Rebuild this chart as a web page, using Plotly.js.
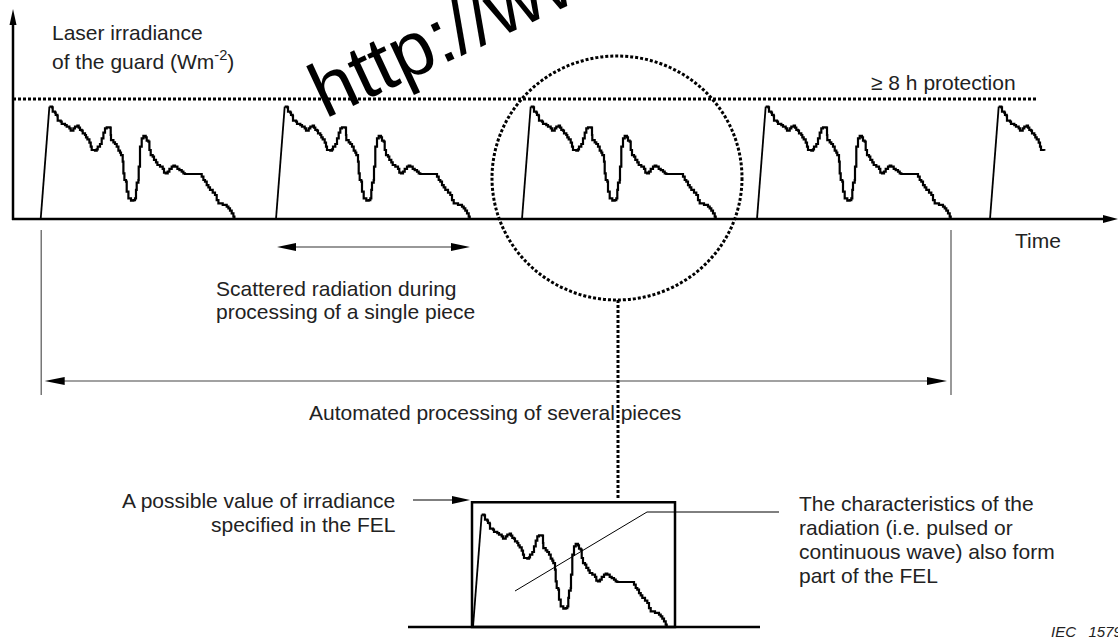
<!DOCTYPE html>
<html><head><meta charset="utf-8">
<script src="https://cdn.plot.ly/plotly-3.0.1.min.js"></script>
<style>html,body{margin:0;padding:0;background:#fff;}#chart{width:1118px;height:637px;}</style>
</head><body><div id="chart"></div>
<script>
// ---- DATA ----
// Irradiance profile while processing one piece: time offset from start of the piece, relative irradiance (8 h protection level = 100)
const profileTime = [0, 8.7, 11.3, 12.0, 14.3, 15.0, 16.7, 17.0, 20.0, 21.0, 24.3, 26.0, 28.7, 30.0, 32.0, 32.7, 34.3, 36.7, 38.0, 39.3, 41.0, 42.0, 44.3, 45.3, 46.7, 48.7, 50.0, 51.0, 54.3, 56.0, 57.0, 59.3, 61.0, 62.7, 64.3, 66.0, 69.3, 70.0, 70.3, 72.7, 74.3, 76.0, 77.7, 79.3, 80.3, 82.0, 82.7, 83.7, 85.3, 86.0, 87.7, 90.3, 92.7, 94.3, 95.3, 96.0, 97.7, 98.0, 99.3, 101.0, 102.7, 105.0, 106.0, 107.7, 108.7, 110.0, 112.0, 113.3, 115.3, 116.7, 119.3, 122.0, 123.3, 125.0, 127.0, 128.7, 131.0, 132.7, 134.3, 136.7, 138.7, 141.0, 142.7, 144.3, 159.3, 161.0, 162.7, 164.3, 166.0, 167.7, 169.3, 172.0, 174.3, 176.0, 177.7, 182.0, 186.0, 187.7, 189.3, 191.0, 192.7, 193.7];
const profileIrradiance = [0, 93.6, 93.1, 89.4, 88.6, 86.7, 85.8, 81.9, 81.1, 79.2, 78.3, 76.9, 75.6, 73.6, 73.6, 75.6, 76.9, 77.8, 76.1, 74.2, 73.6, 71.4, 70.0, 68.1, 66.4, 63.6, 60.3, 57.5, 56.9, 58.1, 60.3, 62.5, 67.2, 71.9, 75.6, 76.4, 76.1, 70.0, 65.8, 63.9, 62.5, 60.3, 56.9, 55.3, 53.3, 47.8, 38.1, 32.5, 31.1, 22.8, 17.2, 15.3, 15.8, 17.2, 24.2, 30.3, 32.5, 43.6, 60.3, 67.2, 69.2, 68.1, 65.3, 64.4, 57.5, 53.3, 51.9, 49.2, 47.2, 45.0, 43.6, 41.7, 38.6, 38.1, 39.4, 41.7, 43.6, 44.4, 43.6, 41.7, 40.8, 39.4, 38.1, 37.5, 37.5, 35.3, 32.5, 31.1, 28.3, 26.4, 24.2, 21.9, 20.0, 15.8, 13.1, 11.7, 10.3, 8.9, 6.9, 4.7, 1.9, 0];
const pieceStarts = [27.7, 263, 509, 744, 977];
const pieceShownUntil = [194, 194, 194, 194, 54.3];
const protectionLevel = 100;
const protectionLineEnd = 1025;
const felLevel = 104;
const felDuration = 202;
const yLabelLines = ["Laser irradiance", "of the guard (Wm<sup>-2</sup>)"];
const protectionLabel = "\u2265 8 h protection";
const timeLabel = "Time";
const singleLabelLines = ["Scattered radiation during", "processing of a single piece"];
const severalLabel = "Automated processing of several pieces";
const felLabelLines = ["A possible value of irradiance", "specified in the FEL"];
const charLabelLines = ["The characteristics of the", "radiation (i.e. pulsed or", "continuous wave) also form", "part of the FEL"];
const figureId = "IEC   1579";
const watermark = "http://www.";

// ---- GEOMETRY (layout only) ----
const W = 1118, H = 637, X0 = 13, Y0 = 219, YS = 1.2;
const IX0 = 473, IY0 = 627;
const P = (px, py) => [px - X0, (Y0 - py) / YS];
const FONT = "Liberation Sans, Arial, Helvetica, sans-serif";
const TXT = "#222";
const DOT = "3px,2px";

const traces = [];
function pulseTraces(offset, until, xa, ya) {
  const xs = [], ys = [];
  profileTime.forEach((t, k) => { if (t <= until) { xs.push(offset + t); ys.push(profileIrradiance[k]); } });
  // rising edge (straight) and the stepped, digitised decay
  traces.push({x: xs.slice(0, 2), y: ys.slice(0, 2), type: 'scatter', mode: 'lines', line: {color: '#000', width: 1.8}, hoverinfo: 'skip', xaxis: xa, yaxis: ya});
  traces.push({x: xs.slice(1), y: ys.slice(1), type: 'scatter', mode: 'lines', line: {color: '#000', width: 2.2, shape: 'hv'}, hoverinfo: 'skip', xaxis: xa, yaxis: ya});
}
pieceStarts.forEach((s, i) => pulseTraces(s, pieceShownUntil[i], 'x', 'y'));
traces.push({x: [0, protectionLineEnd], y: [protectionLevel, protectionLevel], type: 'scatter', mode: 'lines',
  line: {color: '#000', width: 3, dash: DOT}, hoverinfo: 'skip', xaxis: 'x', yaxis: 'y'});
pulseTraces(0, Infinity, 'x2', 'y2');

const shapes = [];
function seg(a, b, c, w, dash) {
  const p = P(a[0], a[1]), q = P(b[0], b[1]);
  shapes.push({type: 'line', xref: 'x', yref: 'y', x0: p[0], y0: p[1], x1: q[0], y1: q[1], line: {color: c, width: w, dash: dash || 'solid'}});
}
function head(tip, dir, L, hw) {
  const bx = tip[0] - dir[0] * L, by = tip[1] - dir[1] * L;
  const n = [-dir[1], dir[0]];
  const pts = [tip, [bx + n[0] * hw, by + n[1] * hw], [bx - n[0] * hw, by - n[1] * hw]].map(p => P(p[0], p[1]));
  shapes.push({type: 'path', xref: 'x', yref: 'y', path: 'M' + pts.map(p => p[0] + ',' + p[1]).join('L') + 'Z', fillcolor: '#000', line: {width: 0}});
}
// axes
seg([13, 220], [13, 24], '#000', 2.5);
head([13, 9], [0, -1], 16, 3.5);
seg([12, 219], [1104, 219], '#000', 2.5);
head([1118, 219], [1, 0], 15, 4);
// extent markers
const p1 = pieceStarts[0] + X0, p4e = pieceStarts[3] + pieceShownUntil[3] + X0;
seg([p1 + 0.5, 230], [p1 + 0.5, 395], '#555', 1.2);
seg([p4e, 230], [p4e, 395], '#555', 1.2);
// single-piece arrow
const s2 = pieceStarts[1] + X0, e2 = pieceStarts[1] + pieceShownUntil[1] + X0;
seg([s2 + 12, 247], [e2 - 12, 247], '#333', 1.2);
head([s2 + 1, 247], [-1, 0], 19, 4);
head([e2, 247], [1, 0], 19, 4);
// several-pieces arrow
seg([p1 + 16, 381], [p4e - 16, 381], '#444', 1.2);
head([p1 + 4, 381], [-1, 0], 20, 4);
head([p4e - 4, 381], [1, 0], 20, 4);
// dotted zoom circle and connector
const c0 = P(492, 300), c1 = P(742, 56);
shapes.push({type: 'circle', xref: 'x', yref: 'y', x0: c0[0], y0: c0[1], x1: c1[0], y1: c1[1], line: {color: '#000', width: 3, dash: DOT}});
seg([618, 300], [618, 500], '#000', 3, DOT);
// FEL pointer arrow
seg([413, 500], [455, 500], '#000', 1.2);
head([470, 500], [1, 0], 18, 4);
// characteristics pointer
seg([515, 591], [647, 512], '#000', 1);
seg([647, 512], [779, 512], '#000', 1);
// inset box & ground
shapes.push({type: 'rect', xref: 'x2', yref: 'y2', x0: -1, x1: felDuration, y0: 0, y1: felLevel, line: {color: '#000', width: 2.5}});
shapes.push({type: 'line', xref: 'x2', yref: 'y2', x0: 408 - IX0, x1: 760 - IX0, y0: 0, y1: 0, line: {color: '#000', width: 2.5}});

const annotations = [];
function txt(text, px, py, anchor, size, extra) {
  const p = P(px, py);
  annotations.push(Object.assign({text: text, x: p[0], y: p[1], xref: 'x', yref: 'y', xanchor: anchor, yanchor: 'middle', showarrow: false,
    font: {family: FONT, size: size || 21, color: TXT}}, extra || {}));
}
txt(yLabelLines[0], 50, 32, 'left');
txt(yLabelLines[1], 50, 60, 'left');
txt(protectionLabel, 943, 82, 'center');
txt(timeLabel, 1038, 240, 'center');
txt(singleLabelLines[0], 214, 288, 'left');
txt(singleLabelLines[1], 214, 311, 'left');
txt(severalLabel, 495, 412, 'center');
felLabelLines.forEach((l, i) => txt(l, 397, 500 + 24 * i, 'right'));
charLabelLines.forEach((l, i) => txt(l, 797, 503 + 24 * i, 'left'));
txt('<i>' + figureId + '</i>', 1049, 631, 'left', 15);
txt(watermark, 484, 15, 'center', 77, {textangle: -25, font: {family: FONT, size: 77, color: '#000'}});

const ax = (o) => Object.assign({showgrid: false, zeroline: false, showticklabels: false, showline: false, ticks: '', fixedrange: true}, o);
const layout = {
  width: W, height: H, margin: {l: 0, r: 0, t: 0, b: 0}, showlegend: false,
  paper_bgcolor: '#fff', plot_bgcolor: 'rgba(0,0,0,0)',
  xaxis: ax({domain: [0, 1], range: [-X0, W - X0]}),
  yaxis: ax({domain: [0, 1], range: [(Y0 - H) / YS, Y0 / YS]}),
  xaxis2: ax({domain: [408 / W, 800 / W], range: [408 - IX0, 800 - IX0], anchor: 'y2'}),
  yaxis2: ax({domain: [(H - 633) / H, (H - 495) / H], range: [(IY0 - 633) / YS, (IY0 - 495) / YS], anchor: 'x2'}),
  shapes: shapes, annotations: annotations
};
Plotly.newPlot('chart', traces, layout, {staticPlot: true, displayModeBar: false});
</script></body></html>
